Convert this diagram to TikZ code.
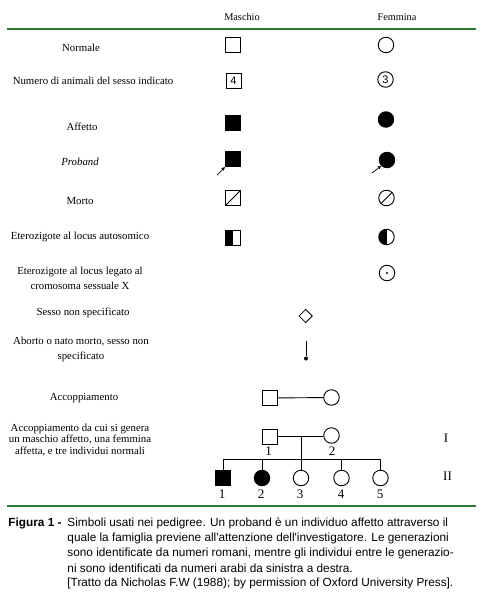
\documentclass[tikz,border=0pt]{standalone}
\usepackage{fontspec}
\setmainfont{Liberation Serif}
\newfontfamily\capfont{Liberation Sans}
\usetikzlibrary{arrows.meta,shapes.geometric}
\definecolor{rulegreen}{RGB}{46,122,48}
\begin{document}
\begin{tikzpicture}[x=1pt,y=-1pt,line width=0.9pt,
  lbl/.style={font=\fontsize{10.8}{15}\selectfont, align=center, inner sep=0},
  hdr/.style={font=\fontsize{10.3}{12}\selectfont, inner sep=0},
  sq/.style={draw, rectangle, minimum size=15pt, inner sep=0},
  ci/.style={draw, circle, minimum size=15.5pt, inner sep=0},
  num/.style={font=\fontsize{13}{13}\selectfont, inner sep=0},
  captext/.style={font=\capfont\fontsize{11.8}{12}\selectfont, anchor=west, inner sep=0},
  prarrow/.style={-{Stealth[length=4pt,width=3.5pt]}, line width=0.7pt},
  halfleft/.style={path picture={\fill[black] (path picture bounding box.south west) rectangle (path picture bounding box.north);}},
  slash/.style={path picture={\draw[line width=0.8pt] (path picture bounding box.south west) -- (path picture bounding box.north east);}}
]
\useasboundingbox (0,0) rectangle (482,600);

% headers
\node[hdr] (hm) at (242,17) {Maschio};
\node[hdr] (hf) at (397,17) {Femmina};
\draw[rulegreen, line width=1.5pt] (7,29) -- (476,29);

% row labels
\node[lbl] (l1) at (81,48) {Normale};
\node[lbl] (l2) at (93,81) {Numero di animali del sesso indicato};
\node[lbl] (l3) at (82,127) {Affetto};
\node[lbl] (l4) at (80,162) {\itshape Proband};
\node[lbl] (l5) at (80,201) {Morto};
\node[lbl] (l6) at (80,237) {Eterozigote al locus autosomico};
\node[lbl] (l7) at (80,278.5) {Eterozigote al locus legato al\\cromosoma sessuale X};
\node[lbl] (l8) at (83,313) {Sesso non specificato};
\node[lbl] (l9) at (81,349.5) {Aborto o nato morto, sesso non\\specificato};
\node[lbl] (l10) at (84,398) {Accoppiamento};
\node[lbl, font=\fontsize{10.8}{11.2}\selectfont] (l11) at (80,440) {Accoppiamento da cui si genera\\un maschio affetto, una femmina\\affetta, e tre individui normali};

% Normale
\node[sq] (m1) at (232.5,45) {};
\node[ci] (f1) at (386,45) {};
% Numero
\node[sq, font=\capfont\fontsize{11}{11}\selectfont] (m2) at (233.5,81) {4};
\node[ci, font=\capfont\fontsize{11}{11}\selectfont] (f2) at (385.5,79.5) {3};
% Affetto
\node[sq, fill=black] (m3) at (232.5,123) {};
\node[ci, fill=black] (f3) at (386,119.5) {};
% Proband
\node[sq, fill=black] (m4) at (233,159) {};
\node[ci, fill=black] (f4) at (387,160) {};
\coordinate (a4m) at (217,175);
\coordinate (a4f) at (372,173);
\draw[prarrow] (a4m) -- (m4.south west);
\draw[prarrow] (a4f) -- (f4.south west);
% Morto
\node[sq, slash] (m5) at (233,198) {};
\node[ci, slash] (f5) at (386.5,198) {};
% Eterozigote autosomico
\node[sq, halfleft] (m6) at (233,238) {};
\node[ci, halfleft] (f6) at (386.5,237) {};
% Eterozigote X
\node[ci] (f7) at (387,273) {};
\fill (f7.center) circle (1.2);
% Sesso non specificato
\node[draw, diamond, minimum size=13.5pt, inner sep=0, line width=0.8pt] (d8) at (305.7,316) {};
% Aborto
\coordinate (t9) at (306,341);
\node[circle, fill=black, minimum size=4pt, inner sep=0] (b9) at (306,358.5) {};
\draw (t9) -- (b9);
% Accoppiamento
\node[sq] (m10) at (269.5,398) {};
\node[ci] (f10) at (331.5,397.5) {};
\draw (m10) -- (f10);

% Pedigree
\node[sq] (p1) at (269.5,436.5) {};
\node[ci] (p2) at (331.5,435.5) {};
\draw (p1.east) -- (p2.west |- p1.east) coordinate (pe);
\coordinate (mid) at (301.7,436.5);
\coordinate (sib) at (301.7,459);
\draw (mid) -- (sib);
\node[sq, fill=black] (c1) at (223,478) {};
\node[ci, fill=black] (c2) at (262,478) {};
\node[ci] (c3) at (301,478) {};
\node[ci] (c4) at (341.5,478) {};
\node[ci] (c5) at (380.5,478) {};
\coordinate (sl) at (223,459);
\coordinate (sr) at (380.5,459);
\draw (sl) -- (sr);
\foreach \c in {c1,c2,c3,c4,c5} \draw (\c.north |- sl) -- (\c.north);

\node[num] (n1) at (268.5,451.5) {1};
\node[num] (n2) at (332,451.5) {2};
\node[num] (k1) at (222,494) {1};
\node[num] (k2) at (261,494) {2};
\node[num] (k3) at (300,494) {3};
\node[num] (k4) at (341,494) {4};
\node[num] (k5) at (380,494) {5};
\node[num] (g1) at (446,438) {I};
\node[num] (g2) at (447.5,476.5) {II};

\draw[rulegreen, line width=2.6pt] (7,506) -- (476,506);

% caption
\node[captext, font=\capfont\bfseries\fontsize{11.8}{12}\selectfont] (cf) at (8,523.5) {Figura 1 -};
\node[captext] (c1l) at (67,523.5) {Simboli usati nei pedigree. Un proband è un individuo affetto attraverso il};
\node[captext] (c2l) at (67,538.5) {quale la famiglia previene all'attenzione dell'investigatore. Le generazioni};
\node[captext] (c3l) at (67,553.5) {sono identificate da numeri romani, mentre gli individui entre le generazio-};
\node[captext] (c4l) at (67,568.5) {ni sono identificati da numeri arabi da sinistra a destra.};
\node[captext] (c5l) at (67,583.5) {[Tratto da Nicholas F.W (1988); by permission of Oxford University Press].};
\end{tikzpicture}
\end{document}
